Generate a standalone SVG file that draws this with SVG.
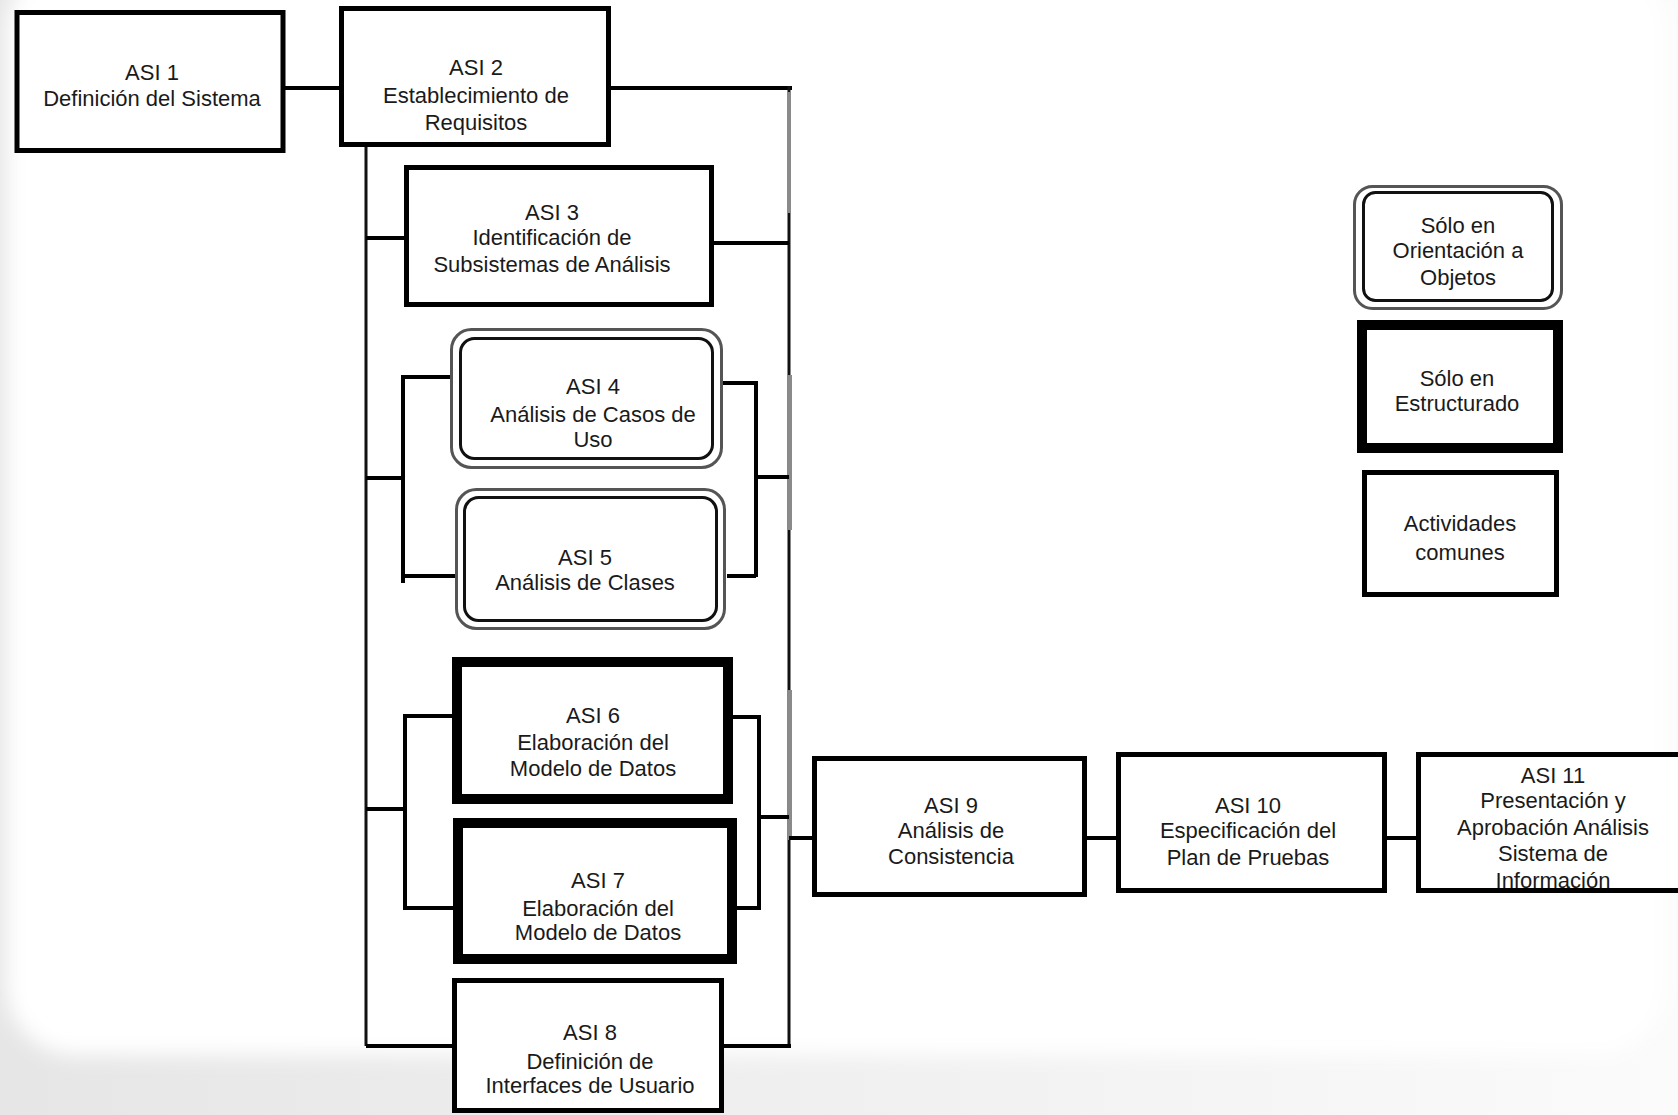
<svg xmlns="http://www.w3.org/2000/svg" width="1678" height="1115" viewBox="0 0 1678 1115">
  <defs>
    <filter id="soft" x="-5%" y="-5%" width="110%" height="110%">
      <feGaussianBlur stdDeviation="10"/>
    </filter>
    <linearGradient id="floor" x1="0" y1="0" x2="1" y2="0">
      <stop offset="0" stop-color="#e6e6e6"/>
      <stop offset="0.6" stop-color="#f2f2f2"/>
      <stop offset="1" stop-color="#fbfbfb"/>
    </linearGradient>
    <style>
      .box { fill: #ffffff; stroke: #000000; stroke-width: 5; }
      .heavy { fill: #ffffff; stroke: #000000; stroke-width: 10; }
      .dbl-out { fill: #ffffff; stroke: #555555; stroke-width: 3; }
      .dbl-in { fill: none; stroke: #111111; stroke-width: 3; }
      .lbl { font-family: "Liberation Sans", Arial, sans-serif; font-size: 22px; fill: #1a1a1a; text-anchor: middle; }
      .wire { fill: none; stroke: #000000; stroke-width: 4; }
      .bus { fill: none; stroke: #111111; stroke-width: 3; }
      .bus-grey { fill: none; stroke: #8a8a8a; stroke-width: 4; }
    </style>
  </defs>

  <!-- backdrop: soft panel -->
  <rect x="0" y="0" width="1678" height="1115" fill="url(#floor)"/>
  <rect x="6" y="-40" width="1660" height="1095" rx="70" fill="#ffffff" filter="url(#soft)"/>

  <!-- connectors -->
  <g id="connectors">
    <path class="wire" d="M285,88 H340"/>
    <path class="wire" d="M611,88 H792"/>
    <!-- left and right buses -->
    <path class="bus" d="M366,147 V1046"/>
    <path class="bus" d="M789,86 V1048"/>
    <path class="bus-grey" d="M789,92 V213 M790,375 V530 M790,690 V840"/>
    <path class="wire" d="M366,1046 H452 M724,1046 H791"/>
    <!-- ASI 3 -->
    <path class="wire" d="M366,238 H404 M714,243 H789"/>
    <!-- ASI 4 / ASI 5 bracket -->
    <path class="wire" d="M366,478 H403 M450,377 H403 V583 M403,576 H455"/>
    <path class="wire" d="M723,383 H756 V577 M727,576 H756 M756,477 H789"/>
    <!-- ASI 6 / ASI 7 bracket -->
    <path class="wire" d="M366,809 H405 M452,716 H405 V908 H453"/>
    <path class="wire" d="M733,717 H759 V908 H723 M759,817 H789"/>
    <!-- sequence to ASI 9, 10, 11 -->
    <path class="wire" d="M789,838 H812 M1087,838 H1116 M1387,838 H1416"/>
  </g>

  <g id="asi1">
    <rect class="box" x="17" y="12.5" width="266" height="138"/>
    <text class="lbl" x="152" y="80">ASI 1</text>
    <text class="lbl" x="152" y="106">Definición del Sistema</text>
  </g>

  <g id="asi2">
    <rect class="box" x="341.5" y="8.5" width="267" height="136"/>
    <text class="lbl" x="476" y="75">ASI 2</text>
    <text class="lbl" x="476" y="103">Establecimiento de</text>
    <text class="lbl" x="476" y="130">Requisitos</text>
  </g>

  <g id="asi3">
    <rect class="box" x="406.5" y="167.5" width="305" height="137"/>
    <text class="lbl" x="552" y="220">ASI 3</text>
    <text class="lbl" x="552" y="245">Identificación de</text>
    <text class="lbl" x="552" y="272">Subsistemas de Análisis</text>
  </g>

  <g id="asi4">
    <rect class="dbl-out" x="451.5" y="329.5" width="270" height="138" rx="20"/>
    <rect class="dbl-in" x="460.5" y="338.5" width="252" height="120" rx="14"/>
    <text class="lbl" x="593" y="394">ASI 4</text>
    <text class="lbl" x="593" y="422">Análisis de Casos de</text>
    <text class="lbl" x="593" y="447">Uso</text>
  </g>

  <g id="asi5">
    <rect class="dbl-out" x="456.5" y="489.5" width="268" height="139" rx="20"/>
    <rect class="dbl-in" x="464.5" y="497.5" width="252" height="123" rx="14"/>
    <text class="lbl" x="585" y="565">ASI 5</text>
    <text class="lbl" x="585" y="590">Análisis de Clases</text>
  </g>

  <g id="asi6">
    <rect class="heavy" x="457" y="662" width="271" height="137" stroke-width="9"/>
    <text class="lbl" x="593" y="723">ASI 6</text>
    <text class="lbl" x="593" y="750">Elaboración del</text>
    <text class="lbl" x="593" y="776">Modelo de Datos</text>
  </g>

  <g id="asi7">
    <rect class="heavy" x="458" y="823" width="274" height="136"/>
    <text class="lbl" x="598" y="888">ASI 7</text>
    <text class="lbl" x="598" y="916">Elaboración del</text>
    <text class="lbl" x="598" y="940">Modelo de Datos</text>
  </g>

  <g id="asi8">
    <rect class="box" x="454.5" y="980.5" width="267" height="130"/>
    <text class="lbl" x="590" y="1040">ASI 8</text>
    <text class="lbl" x="590" y="1069">Definición de</text>
    <text class="lbl" x="590" y="1093">Interfaces de Usuario</text>
  </g>

  <g id="asi9">
    <rect class="box" x="814.5" y="758.5" width="270" height="136"/>
    <text class="lbl" x="951" y="813">ASI 9</text>
    <text class="lbl" x="951" y="838">Análisis de</text>
    <text class="lbl" x="951" y="864">Consistencia</text>
  </g>

  <g id="asi10">
    <rect class="box" x="1118.5" y="754.5" width="266" height="136"/>
    <text class="lbl" x="1248" y="813">ASI 10</text>
    <text class="lbl" x="1248" y="838">Especificación del</text>
    <text class="lbl" x="1248" y="865">Plan de Pruebas</text>
  </g>

  <g id="asi11">
    <rect class="box" x="1418.5" y="754.5" width="300" height="136"/>
    <text class="lbl" x="1553" y="783">ASI 11</text>
    <text class="lbl" x="1553" y="808">Presentación y</text>
    <text class="lbl" x="1553" y="835">Aprobación Análisis</text>
    <text class="lbl" x="1553" y="861">Sistema de</text>
    <text class="lbl" x="1553" y="888">Información</text>
  </g>

  <!-- legend -->
  <g id="legend-oo">
    <rect class="dbl-out" x="1354.5" y="186.5" width="207" height="122" rx="18"/>
    <rect class="dbl-in" x="1363.5" y="192.5" width="189" height="108" rx="12"/>
    <text class="lbl" x="1458" y="233">Sólo en</text>
    <text class="lbl" x="1458" y="258">Orientación  a</text>
    <text class="lbl" x="1458" y="285">Objetos</text>
  </g>

  <g id="legend-struct">
    <rect class="heavy" x="1362" y="325" width="196" height="123"/>
    <text class="lbl" x="1457" y="386">Sólo en</text>
    <text class="lbl" x="1457" y="411">Estructurado</text>
  </g>

  <g id="legend-common">
    <rect class="box" x="1364.5" y="472.5" width="192" height="122"/>
    <text class="lbl" x="1460" y="531">Actividades</text>
    <text class="lbl" x="1460" y="560">comunes</text>
  </g>
</svg>
